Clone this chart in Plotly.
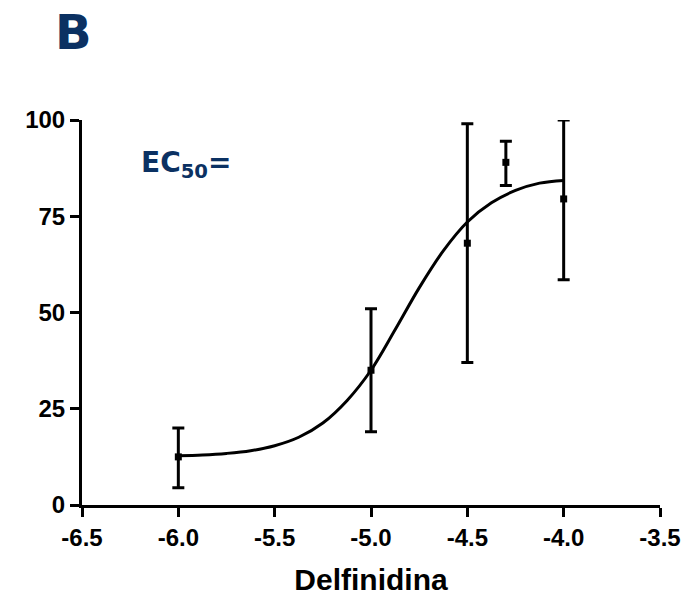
import plotly.graph_objects as go

# Data points (log concentration of Delfinidina vs response)
x_points = [-6.0, -5.0, -4.5, -4.3, -4.0]
y_means = [12.5, 35.0, 68.0, 89.0, 79.5]
y_upper = [20.0, 51.0, 99.0, 94.5, 100.0]
y_lower = [4.5, 19.0, 37.0, 83.0, 58.5]

# Fitted curve
curve_x = [-6.0, -5.875, -5.75, -5.625, -5.5, -5.375, -5.25, -5.125, -5.0,
           -4.875, -4.75, -4.625, -4.5, -4.375, -4.25, -4.125, -4.0]
curve_y = [12.8, 13.0, 13.4, 14.1, 15.4, 17.6, 21.3, 27.1, 35.0,
           45.5, 56.4, 66.0, 73.5, 78.5, 81.7, 83.6, 84.3]

x_ticks = [-6.5, -6.0, -5.5, -5.0, -4.5, -4.0, -3.5]
y_ticks = [0, 25, 50, 75, 100]

err_plus = [u - m for u, m in zip(y_upper, y_means)]
err_minus = [m - l for m, l in zip(y_means, y_lower)]

fig = go.Figure()
fig.add_trace(go.Scatter(
    x=curve_x, y=curve_y, mode="lines", line=dict(color="black", width=3, shape="spline"),
    hoverinfo="skip", showlegend=False, cliponaxis=False))
fig.add_trace(go.Scatter(
    x=x_points, y=y_means, mode="markers",
    marker=dict(symbol="square", size=7, color="black"),
    error_y=dict(type="data", symmetric=False, array=err_plus, arrayminus=err_minus,
                 color="black", thickness=3, width=6),
    showlegend=False, cliponaxis=False))

FONT = "Liberation Sans, Arial, sans-serif"
tick_font = dict(family=FONT, size=24, color="black", weight="bold")
fig.update_xaxes(range=[-6.5, -3.5], tickvals=x_ticks, ticktext=[f"{v:.1f}" for v in x_ticks],
                 showline=True, linecolor="black", linewidth=3, ticks="outside", ticklen=9,
                 tickwidth=3, tickcolor="black", showgrid=False, zeroline=False,
                 tickfont=tick_font, automargin=False,
                 title=dict(text="Delfinidina",
                            font=dict(family=FONT, size=30, color="black", weight="bold"),
                            standoff=20))
fig.update_yaxes(range=[0, 100], tickvals=y_ticks, ticktext=[str(v) for v in y_ticks],
                 showline=True, linecolor="black", linewidth=3, ticks="outside", ticklen=9,
                 tickwidth=3, tickcolor="black", showgrid=False, zeroline=False,
                 tickfont=tick_font, automargin=False)
fig.update_layout(
    width=683, height=592, plot_bgcolor="white", paper_bgcolor="white",
    margin=dict(l=74, r=31, t=112, b=95),
    font=dict(family=FONT),
    annotations=[
        dict(text="B", xref="paper", yref="paper", x=-0.05, y=1.229,
             xanchor="left", yanchor="middle", showarrow=False,
             font=dict(family="DejaVu Sans, sans-serif", size=48, color="#0b3162", weight="bold")),
        dict(text="EC<sub>50</sub>=", xref="paper", yref="paper", x=0.098, y=0.885,
             xanchor="left", yanchor="middle", showarrow=False,
             font=dict(family="DejaVu Sans, sans-serif", size=28, color="#0b3162", weight="bold")),
    ])
fig.write_html("out.html")
